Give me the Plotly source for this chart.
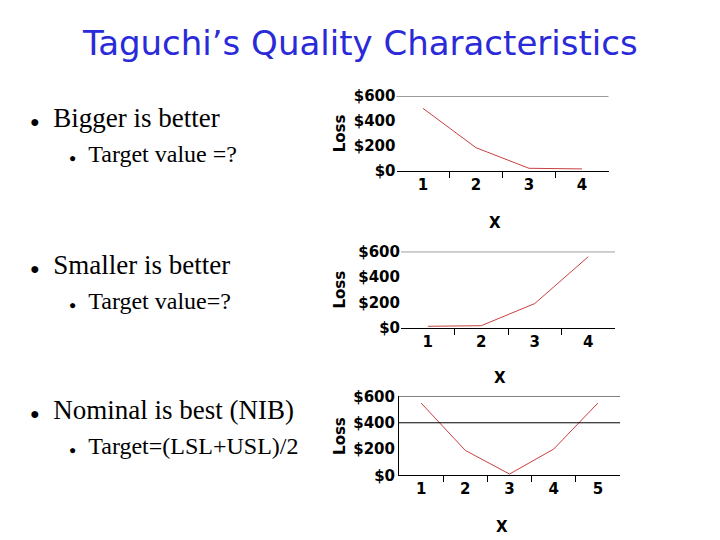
import plotly.graph_objects as go

x4 = [1, 2, 3, 4]
x5 = [1, 2, 3, 4, 5]
bigger = [500, 185, 20, 15]
smaller = [10, 15, 190, 560]
nominal = [550, 190, 10, 200, 550]
yticks = [0, 200, 400, 600]
ylabels = ["<b>$0</b>", "<b>$200</b>", "<b>$400</b>", "<b>$600</b>"]

W, H = 720, 540


def PX(x):
    return (x - 8) / W


def PY(y):
    return 1 - ((y - 16) / 0.968) / H


fig = go.Figure()
panels = [
    (x4, bigger, [396.5, 608.5], [95, 170], 222, [600]),
    (x4, smaller, [401, 615], [251, 327], 377, [600]),
    (x5, nominal, [399, 620], [396, 475], 527, [400, 600]),
]
tf = dict(family="DejaVu Sans", size=15, color="black")
for i, (xs, ys, xd, yd, xlab, grid) in enumerate(panels):
    n = i + 1
    sx = "" if n == 1 else str(n)
    fig.add_trace(go.Scatter(x=xs, y=ys, mode="lines", line=dict(color="#c84040", width=1),
                             xaxis="x" + sx, yaxis="y" + sx, showlegend=False))
    k = len(xs)
    fig.update_layout(**{
        "xaxis" + sx: dict(domain=[PX(xd[0]), PX(xd[1])], range=[0.5, k + 0.5], anchor="y" + sx,
                           tickvals=xs, ticktext=["<b>%d</b>" % v for v in xs], ticks="",
                           showgrid=False, zeroline=False,
                           showline=True, linecolor="black", tickfont=tf,
                           minor=dict(tickvals=[v + 0.5 for v in xs[:-1]], ticks="outside",
                                      ticklen=6, tickcolor="black", showgrid=False)),
        "yaxis" + sx: dict(domain=[PY(yd[1]), PY(yd[0])], range=[0, 600], anchor="x" + sx,
                           tickvals=yticks, ticktext=ylabels, showgrid=False, zeroline=False,
                           showline=(n == 3), linecolor="black", tickfont=tf, ticks=""),
    })
    for g in grid:
        fig.add_shape(type="line", xref="x" + sx + " domain", yref="y" + sx, x0=0, x1=1, y0=g, y1=g,
                      line=dict(color="black", width=1))
    fig.add_annotation(x=PX((xd[0] + xd[1]) / 2), y=PY(xlab), xref="paper", yref="paper",
                       yanchor="middle", text="<b>X</b>", showarrow=False, font=tf)
    fig.add_annotation(x=PX(340), y=PY((yd[0] + yd[1]) / 2), xref="paper", yref="paper",
                       yanchor="middle", text="<b>Loss</b>", textangle=-90, showarrow=False,
                       font=dict(family="DejaVu Sans", size=15, color="black"))

fig.add_annotation(x=PX(360), y=PY(42), xref="paper", yref="paper", showarrow=False, yanchor="middle",
                   text="Taguchi’s Quality Characteristics",
                   font=dict(family="DejaVu Sans", size=34, color="#2a2ad8"))
serif = "Liberation Serif"
items = [("Bigger is better", "Target value =?", 117, 153),
         ("Smaller is better", "Target value=?", 264, 300),
         ("Nominal is best (NIB)", "Target=(LSL+USL)/2", 410, 446)]
for main, sub, y1, y2 in items:
    fig.add_annotation(x=PX(28), y=PY(y1), xref="paper", yref="paper", xanchor="left", yanchor="middle",
                       showarrow=False, text="<span style='font-size:16px'>●</span>&nbsp;&nbsp;" + main,
                       font=dict(family=serif, size=27, color="black"))
    fig.add_annotation(x=PX(67), y=PY(y2), xref="paper", yref="paper", xanchor="left", yanchor="middle",
                       showarrow=False, text="<span style='font-size:12px'>●</span>&nbsp;&nbsp;" + sub,
                       font=dict(family=serif, size=24, color="black"))

fig.update_layout(width=W, height=H, margin=dict(l=0, r=0, t=0, b=0),
                  paper_bgcolor="white", plot_bgcolor="white")
fig.write_html("out.html")
